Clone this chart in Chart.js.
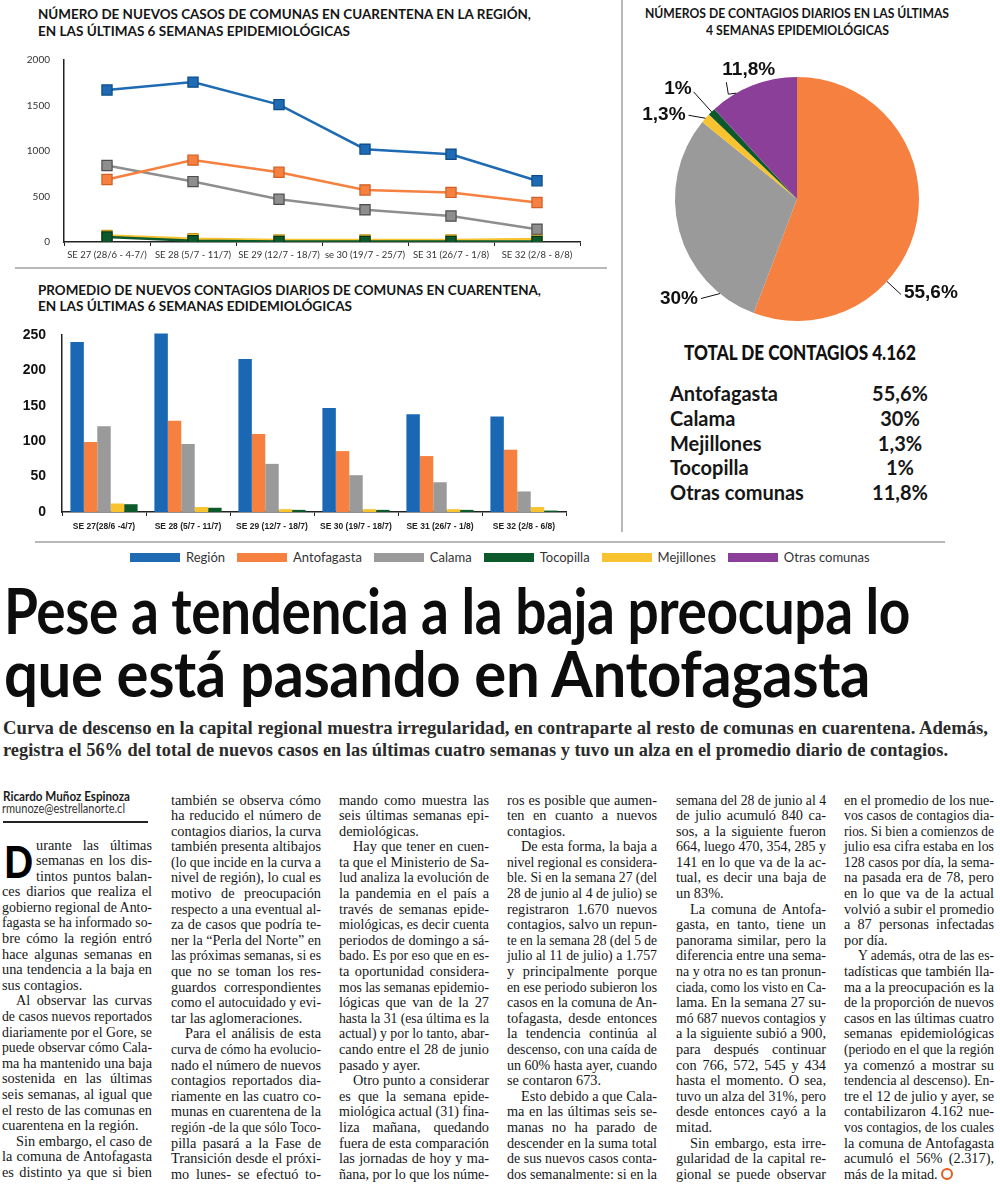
<!DOCTYPE html>
<html lang="es">
<head>
<meta charset="utf-8">
<title>Pese a tendencia a la baja preocupa lo que está pasando en Antofagasta</title>
<script src="https://cdn.jsdelivr.net/npm/chart.js@4.4.1/dist/chart.umd.min.js"></script>
<style>
  html, body { margin: 0; padding: 0; }
  body { width: 1000px; height: 1187px; position: relative; overflow: hidden; background: #fff; color: #111; font-family: Lato, "Open Sans", sans-serif; }
  .abs { position: absolute; }
  .fit { position: absolute; white-space: nowrap; transform-origin: 0 0; display: inline-block; }
  .ctitle { font: 700 14px Lato, sans-serif; line-height: 16px; color: #151515; }
  .rule { position: absolute; background: #b8b8b8; }
  canvas { position: absolute; }
  .hl { font: 700 64px Lato, sans-serif; line-height: 63px; color: #0d0d0d; letter-spacing: -0.5px; }
  .deck { font: 700 19px "Liberation Serif", "DejaVu Serif", serif; line-height: 22px; color: #2b2b2b; }
  .col { position: absolute; width: 150px; font: 14.3px "Liberation Serif", serif; color: #161616; }
  .ln { height: 15.6px; line-height: 15.6px; }
  .just { text-align: justify; text-align-last: justify; }
  .ico { display: inline-block; width: 8px; height: 8px; border: 2px solid #e85a20; border-radius: 50%; margin-left: 3px; vertical-align: -1px; }
  #legend { display: flex; align-items: center; font: 13px Lato, sans-serif; color: #333; }
  #legend .sw { width: 50px; height: 9px; margin-right: 6px; }
  #legend .it { display: flex; align-items: center; margin-right: 12px; }
  #tabla { font: 700 20px Lato, sans-serif; color: #161616; }
  #tabla .row { position: relative; height: 24.8px; line-height: 24.8px; }
  #tabla .pct { position: absolute; left: 170px; width: 120px; text-align: center; top: 0; }
</style>
</head>
<body>

<!-- separadores -->
<div class="rule" style="left:15px;top:267px;width:592px;height:2px"></div>
<div class="rule" style="left:621px;top:0;width:2px;height:532px"></div>
<div class="rule" style="left:35px;top:541px;width:910px;height:1.5px"></div>

<!-- titulos de graficos -->
<div class="fit ctitle" style="left:38px;top:6px" data-w="493">NÚMERO DE NUEVOS CASOS DE COMUNAS EN CUARENTENA EN LA REGIÓN,</div>
<div class="fit ctitle" style="left:38px;top:23px" data-w="312">EN LAS ÚLTIMAS 6 SEMANAS EPIDEMIOLÓGICAS</div>
<div class="fit ctitle" style="left:38px;top:282px" data-w="503">PROMEDIO DE NUEVOS CONTAGIOS DIARIOS DE COMUNAS EN CUARENTENA,</div>
<div class="fit ctitle" style="left:38px;top:298px" data-w="314">EN LAS ÚLTIMAS 6 SEMANAS EDIDEMIOLÓGICAS</div>
<div class="fit ctitle" style="left:645px;top:5px" data-w="304">NÚMEROS DE CONTAGIOS DIARIOS EN LAS ÚLTIMAS</div>
<div class="fit ctitle" style="left:706px;top:22px" data-w="183">4 SEMANAS EPIDEMIOLÓGICAS</div>

<canvas id="lineas" width="620" height="228" style="left:0;top:40px"></canvas>
<canvas id="barras" width="620" height="230" style="left:0;top:310px"></canvas>
<canvas id="torta" width="378" height="300" style="left:622px;top:40px"></canvas>

<div class="fit" style="left:684px;top:341px;font:900 20px Lato,sans-serif;line-height:22px;color:#111" data-w="232">TOTAL DE CONTAGIOS 4.162</div>
<div id="tabla" class="abs" style="left:670px;top:381px;width:300px"></div>

<div id="legend" class="abs" style="left:130px;top:549px"></div>

<!-- titular -->
<div class="fit hl" style="left:4px;top:578px" data-w="906">Pese a tendencia a la baja preocupa lo</div>
<div class="fit hl" style="left:4px;top:641px" data-w="866">que está pasando en Antofagasta</div>

<div class="fit deck" style="left:3px;top:717px" data-w="985">Curva de descenso en la capital regional muestra irregularidad, en contraparte al resto de comunas en cuarentena. Además,</div>
<div class="fit deck" style="left:3px;top:739px" data-w="945">registra el 56% del total de nuevos casos en las últimas cuatro semanas y tuvo un alza en el promedio diario de contagios.</div>

<div class="fit" style="left:3px;top:788px;font:700 13px Lato,sans-serif;line-height:16px;color:#1a1a1a" data-w="127">Ricardo Muñoz Espinoza</div>
<div class="fit" style="left:2px;top:801px;font:400 12.5px Lato,sans-serif;line-height:16px;color:#333" data-w="123">rmunoze@estrellanorte.cl</div>
<div class="abs" style="left:3px;top:821px;width:145px;height:1.5px;background:#222"></div>
<div class="fit" style="left:4px;top:839px;font:900 44px Lato,sans-serif;line-height:44px;color:#000" data-w="29">D</div>

<script>
// ---- datos: nuevos casos semanales (grafico de lineas)
const semanasLinea = ['SE 27 (28/6 - 4-7/)', 'SE 28 (5/7 - 11/7)', 'SE 29 (12/7 - 18/7)', 'se 30 (19/7 - 25/7)', 'SE 31 (26/7 - 1/8)', 'SE 32 (2/8 - 8/8)'];
const casosRegion = [1670, 1757, 1510, 1020, 965, 673];
const casosAntofagasta = [687, 900, 766, 572, 545, 434];
const casosCalama = [840, 664, 470, 354, 285, 141];
const casosMejillones = [72, 35, 22, 22, 22, 32];
const casosTocopilla = [55, 15, 5, 5, 5, 5];
const ticksLinea = [0, 500, 1000, 1500, 2000];

// ---- datos: promedio diario (grafico de barras)
const semanasBarra = ['SE 27(28/6 -4/7)', 'SE 28 (5/7 - 11/7)', 'SE 29 (12/7 - 18/7)', 'SE 30 (19/7 - 18/7)', 'SE 31 (26/7 - 1/8)', 'SE 32 (2/8 - 6/8)'];
const promRegion = [240, 252, 216, 147, 138, 135];
const promAntofagasta = [99, 129, 110, 86, 79, 88];
const promCalama = [121, 96, 68, 52, 42, 29];
const promMejillones = [12, 7, 4, 4, 4, 7];
const promTocopilla = [11, 6, 3, 3, 3, 2];
const ticksBarra = [0, 50, 100, 150, 200, 250];

// ---- datos: proporcion ultimas 4 semanas (torta)
const comunasTorta = ['Antofagasta', 'Calama', 'Mejillones', 'Tocopilla', 'Otras comunas'];
const pctTorta = [55.6, 30, 1.3, 1, 11.8];

const leyenda = ['Región', 'Antofagasta', 'Calama', 'Tocopilla', 'Mejillones', 'Otras comunas'];

const C = {
  region: '#1e6bb4', antofagasta: '#f5803f', calama: '#9a9a9a',
  tocopilla: '#0c5a2c', mejillones: '#f8c32e', otras: '#8b3f99'
};
const colorLeyenda = [C.region, C.antofagasta, C.calama, C.tocopilla, C.mejillones, C.otras];

const fmtPct = v => String(v).replace('.', ',') + '%';

// ---- grafico de lineas
function serie(label, data, color, border) {
  return {
    label, data,
    borderColor: color, backgroundColor: color,
    borderWidth: 2.5,
    pointStyle: 'rect', pointRadius: 7.2,
    pointBackgroundColor: color, pointBorderColor: border, pointBorderWidth: 1.2,
    tension: 0
  };
}

new Chart(document.getElementById('lineas'), {
  type: 'line',
  data: {
    labels: semanasLinea,
    datasets: [
      serie('Región', casosRegion, C.region, '#0d4a86'),
      serie('Antofagasta', casosAntofagasta, C.antofagasta, '#cf5f26'),
      serie('Calama', casosCalama, '#8e8e8e', '#4d4d4d'),
      serie('Tocopilla', casosTocopilla, C.tocopilla, '#06361a'),
      serie('Mejillones', casosMejillones, C.mejillones, '#c39619')
    ]
  },
  options: {
    responsive: false, animation: false, devicePixelRatio: 1,
    layout: { padding: { top: 20, right: 40, left: 0, bottom: 0 } },
    plugins: { legend: { display: false }, tooltip: { enabled: false } },
    scales: {
      x: {
        offset: true,
        border: { color: '#222', width: 1.5 },
        grid: { drawOnChartArea: false, offset: true, tickLength: 4, color: '#222' },
        ticks: { color: '#333', font: { family: 'Lato', size: 9.5 }, maxRotation: 0, autoSkip: false, padding: 3 },
        afterFit: s => { s.height = 26; }
      },
      y: {
        min: 0, max: 2000,
        border: { color: '#222', width: 1.5 },
        grid: { display: false },
        afterBuildTicks: s => { s.ticks = ticksLinea.map(v => ({ value: v })); },
        ticks: { color: '#333', font: { family: 'Lato', size: 10 }, padding: 6, callback: v => String(v) },
        afterFit: s => { s.width = 64; }
      }
    }
  }
});

// ---- grafico de barras
function barra(label, data, color) {
  return { label, data, backgroundColor: color, borderWidth: 0, clip: false };
}

new Chart(document.getElementById('barras'), {
  type: 'bar',
  data: {
    labels: semanasBarra,
    datasets: [
      barra('Región', promRegion, '#1a68b3'),
      barra('Antofagasta', promAntofagasta, C.antofagasta),
      barra('Calama', promCalama, C.calama),
      barra('Mejillones', promMejillones, C.mejillones),
      barra('Tocopilla', promTocopilla, C.tocopilla)
    ]
  },
  options: {
    responsive: false, animation: false, devicePixelRatio: 1,
    layout: { padding: { top: 25, right: 54, left: 0, bottom: 0 } },
    datasets: { bar: { categoryPercentage: 0.8, barPercentage: 1 } },
    plugins: { legend: { display: false }, tooltip: { enabled: false } },
    scales: {
      x: {
        border: { color: '#222', width: 1.5 },
        grid: { drawOnChartArea: false, offset: true, tickLength: 4, color: '#222' },
        ticks: { color: '#222', font: { family: 'Liberation Sans', size: 8.5, weight: 'bold' }, maxRotation: 0, autoSkip: false, padding: 6 },
        afterFit: s => { s.height = 28; }
      },
      y: {
        min: 0, max: 250,
        border: { color: '#222', width: 1.5 },
        grid: { display: false },
        afterBuildTicks: s => { s.ticks = ticksBarra.map(v => ({ value: v })); },
        ticks: { color: '#111', font: { family: 'Liberation Sans', size: 14, weight: 'bold' }, padding: 8 },
        afterFit: s => { s.width = 62; }
      }
    }
  }
});

// ---- torta con etiquetas y lineas guia
const guias = {
  id: 'guias',
  afterDatasetsDraw(chart, args, opts) {
    const ctx = chart.ctx;
    const meta = chart.getDatasetMeta(0);
    const data = chart.data.datasets[0].data;
    ctx.save();
    ctx.strokeStyle = '#111';
    ctx.lineWidth = 1;
    ctx.fillStyle = '#111';
    ctx.font = 'bold 19px "Liberation Sans", Arial, sans-serif';
    ctx.textBaseline = 'middle';
    meta.data.forEach((arc, i) => {
      const g = opts.items[i];
      const p = arc.getProps(['x', 'y', 'startAngle', 'endAngle', 'outerRadius'], true);
      const a = p.startAngle + (p.endAngle - p.startAngle) * g.t;
      let x = p.x + Math.cos(a) * p.outerRadius;
      let y = p.y + Math.sin(a) * p.outerRadius;
      ctx.beginPath();
      ctx.moveTo(x, y);
      g.leg.forEach(([dx, dy]) => { x += dx; y += dy; ctx.lineTo(x, y); });
      ctx.stroke();
      ctx.textAlign = g.align;
      ctx.fillText(fmtPct(data[i]), x + g.tx, y + g.ty);
    });
    ctx.restore();
  }
};

new Chart(document.getElementById('torta'), {
  type: 'pie',
  data: {
    labels: comunasTorta,
    datasets: [{
      data: pctTorta,
      backgroundColor: [C.antofagasta, C.calama, C.mejillones, C.tocopilla, C.otras],
      borderWidth: 0, hoverOffset: 0
    }]
  },
  options: {
    responsive: false, animation: false, devicePixelRatio: 1,
    layout: { padding: { left: 53, right: 81, top: 37, bottom: 19 } },
    plugins: {
      legend: { display: false }, tooltip: { enabled: false },
      guias: {
        items: [
          { t: 0.66, leg: [[14, 13]], align: 'left', tx: 3, ty: -2 },
          { t: 0.17, leg: [[-19, 5]], align: 'right', tx: -3, ty: 0 },
          { t: 0.5, leg: [[-17, -3]], align: 'right', tx: -3, ty: 0 },
          { t: 0.5, leg: [[-18, -20]], align: 'right', tx: -2, ty: -3 },
          { t: 0.3, leg: [[-8, 1], [-2, -12]], align: 'left', tx: -4, ty: -12 }
        ]
      }
    }
  },
  plugins: [guias]
});

// ---- tabla de la torta
const tabla = document.getElementById('tabla');
comunasTorta.forEach((n, i) => {
  const r = document.createElement('div');
  r.className = 'row';
  r.innerHTML = `<span>${n}</span><span class="pct">${fmtPct(pctTorta[i])}</span>`;
  tabla.appendChild(r);
});

// ---- leyenda comun
const leg = document.getElementById('legend');
leyenda.forEach((n, i) => {
  const it = document.createElement('div');
  it.className = 'it';
  it.innerHTML = `<div class="sw" style="background:${colorLeyenda[i]}"></div><span>${n}</span>`;
  leg.appendChild(it);
});

// ---- texto de la nota (# = capitular, > = sangria, | = fin de parrafo)
const columnas = [
  ['#urante las últimas', '#semanas en los dis-', '#tintos puntos balan-', 'ces diarios que realiza el',
   'gobierno regional de Anto-', 'fagasta se ha informado so-', 'bre cómo la región entró', 'hace algunas semanas en',
   'una tendencia a la baja en', 'sus contagios.|',
   '>Al observar las curvas', 'de casos nuevos reportados', 'diariamente por el Gore, se', 'puede observar cómo Cala-',
   'ma ha mantenido una baja', 'sostenida en las últimas', 'seis semanas, al igual que', 'el resto de las comunas en',
   'cuarentena en la región.|',
   '>Sin embargo, el caso de', 'la comuna de Antofagasta', 'es distinto ya que si bien'],
  ['también se observa cómo', 'ha reducido el número de', 'contagios diarios, la curva', 'también presenta altibajos',
   '(lo que incide en la curva a', 'nivel de región), lo cual es', 'motivo de preocupación', 'respecto a una eventual al-',
   'za de casos que podría te-', 'ner la “Perla del Norte” en', 'las próximas semanas, si es', 'que no se toman los res-',
   'guardos correspondientes', 'como el autocuidado y evi-', 'tar las aglomeraciones.|',
   '>Para el análisis de esta', 'curva de cómo ha evolucio-', 'nado el número de nuevos', 'contagios reportados dia-',
   'riamente en las cuatro co-', 'munas en cuarentena de la', 'región -de la que sólo Toco-', 'pilla pasará a la Fase de',
   'Transición desde el próxi-', 'mo lunes- se efectuó to-'],
  ['mando como muestra las', 'seis últimas semanas epi-', 'demiológicas.|',
   '>Hay que tener en cuen-', 'ta que el Ministerio de Sa-', 'lud analiza la evolución de', 'la pandemia en el país a',
   'través de semanas epide-', 'miológicas, es decir cuenta', 'periodos de domingo a sá-', 'bado. Es por eso que en es-',
   'ta oportunidad considera-', 'mos las semanas epidemio-', 'lógicas que van de la 27', 'hasta la 31 (esa última es la',
   'actual) y por lo tanto, abar-', 'cando entre el 28 de junio', 'pasado y ayer.|',
   '>Otro punto a considerar', 'es que la semana epide-', 'miológica actual (31) fina-', 'liza mañana, quedando',
   'fuera de esta comparación', 'las jornadas de hoy y ma-', 'ñana, por lo que los núme-'],
  ['ros es posible que aumen-', 'ten en cuanto a nuevos', 'contagios.|',
   '>De esta forma, la baja a', 'nivel regional es considera-', 'ble. Si en la semana 27 (del', '28 de junio al 4 de julio) se',
   'registraron 1.670 nuevos', 'contagios, salvo un repun-', 'te en la semana 28 (del 5 de', 'julio al 11 de julio) a 1.757',
   'y principalmente porque', 'en ese periodo subieron los', 'casos en la comuna de An-', 'tofagasta, desde entonces',
   'la tendencia continúa al', 'descenso, con una caída de', 'un 60% hasta ayer, cuando', 'se contaron 673.|',
   '>Esto debido a que Cala-', 'ma en las últimas seis se-', 'manas no ha parado de', 'descender en la suma total',
   'de sus nuevos casos conta-', 'dos semanalmente: si en la'],
  ['semana del 28 de junio al 4', 'de julio acumuló 840 ca-', 'sos, a la siguiente fueron', '664, luego 470, 354, 285 y',
   '141 en lo que va de la ac-', 'tual, es decir una baja de', 'un 83%.|',
   '>La comuna de Antofa-', 'gasta, en tanto, tiene un', 'panorama similar, pero la', 'diferencia entre una sema-',
   'na y otra no es tan pronun-', 'ciada, como los visto en Ca-', 'lama. En la semana 27 su-', 'mó 687 nuevos contagios y',
   'a la siguiente subió a 900,', 'para después continuar', 'con 766, 572, 545 y 434', 'hasta el momento. O sea,',
   'tuvo un alza del 31%, pero', 'desde entonces cayó a la', 'mitad.|',
   '>Sin embargo, esta irre-', 'gularidad de la capital re-', 'gional se puede observar'],
  ['en el promedio de los nue-', 'vos casos de contagios dia-', 'rios. Si bien a comienzos de', 'julio esa cifra estaba en los',
   '128 casos por día, la sema-', 'na pasada era de 78, pero', 'en lo que va de la actual', 'volvió a subir el promedio',
   'a 87 personas infectadas', 'por día.|',
   '>Y además, otra de las es-', 'tadísticas que también lla-', 'ma a la preocupación es la', 'de la proporción de nuevos',
   'casos en las últimas cuatro', 'semanas epidemiológicas', '(periodo en el que la región', 'ya comenzó a mostrar su',
   'tendencia al descenso). En-', 'tre el 12 de julio y ayer, se', 'contabilizaron 4.162 nue-', 'vos contagios, de los cuales',
   'la comuna de Antofagasta', 'acumuló el 56% (2.317),', 'más de la mitad.*|']
];
const colX = [2, 171, 339, 507, 676, 844];
const colY = [847, 802, 802, 802, 802, 802];

columnas.forEach((lineas, c) => {
  const col = document.createElement('div');
  col.className = 'col';
  col.style.left = colX[c] + 'px';
  col.style.top = (colY[c] - 9.5) + 'px';
  document.body.appendChild(col);
  lineas.forEach(raw => {
    let s = raw, sangria = 0, fin = false, icono = false;
    if (s[0] === '#') { sangria = 34; s = s.slice(1); }
    else if (s[0] === '>') { sangria = 14; s = s.slice(1); }
    if (s.endsWith('|')) { fin = true; s = s.slice(0, -1); }
    if (s.endsWith('*')) { icono = true; s = s.slice(0, -1); }
    const ln = document.createElement('div');
    ln.className = 'ln';
    ln.style.paddingLeft = sangria + 'px';
    ln.style.whiteSpace = 'nowrap';
    const sp = document.createElement('span');
    sp.textContent = s;
    ln.appendChild(sp);
    if (icono) { const i = document.createElement('span'); i.className = 'ico'; ln.appendChild(i); }
    col.appendChild(ln);
    const disp = 150 - sangria;
    const w = sp.getBoundingClientRect().width;
    if (w > disp) {
      sp.style.display = 'inline-block';
      sp.style.transformOrigin = '0 0';
      sp.style.transform = `scaleX(${disp / w})`;
    } else if (!fin) {
      ln.style.whiteSpace = 'normal';
      ln.classList.add('just');
    }
  });
});

// ---- ajustar anchos de textos
document.querySelectorAll('[data-w]').forEach(el => {
  const w = el.getBoundingClientRect().width;
  el.style.transform = `scaleX(${(+el.dataset.w) / w})`;
});
</script>
</body>
</html>
